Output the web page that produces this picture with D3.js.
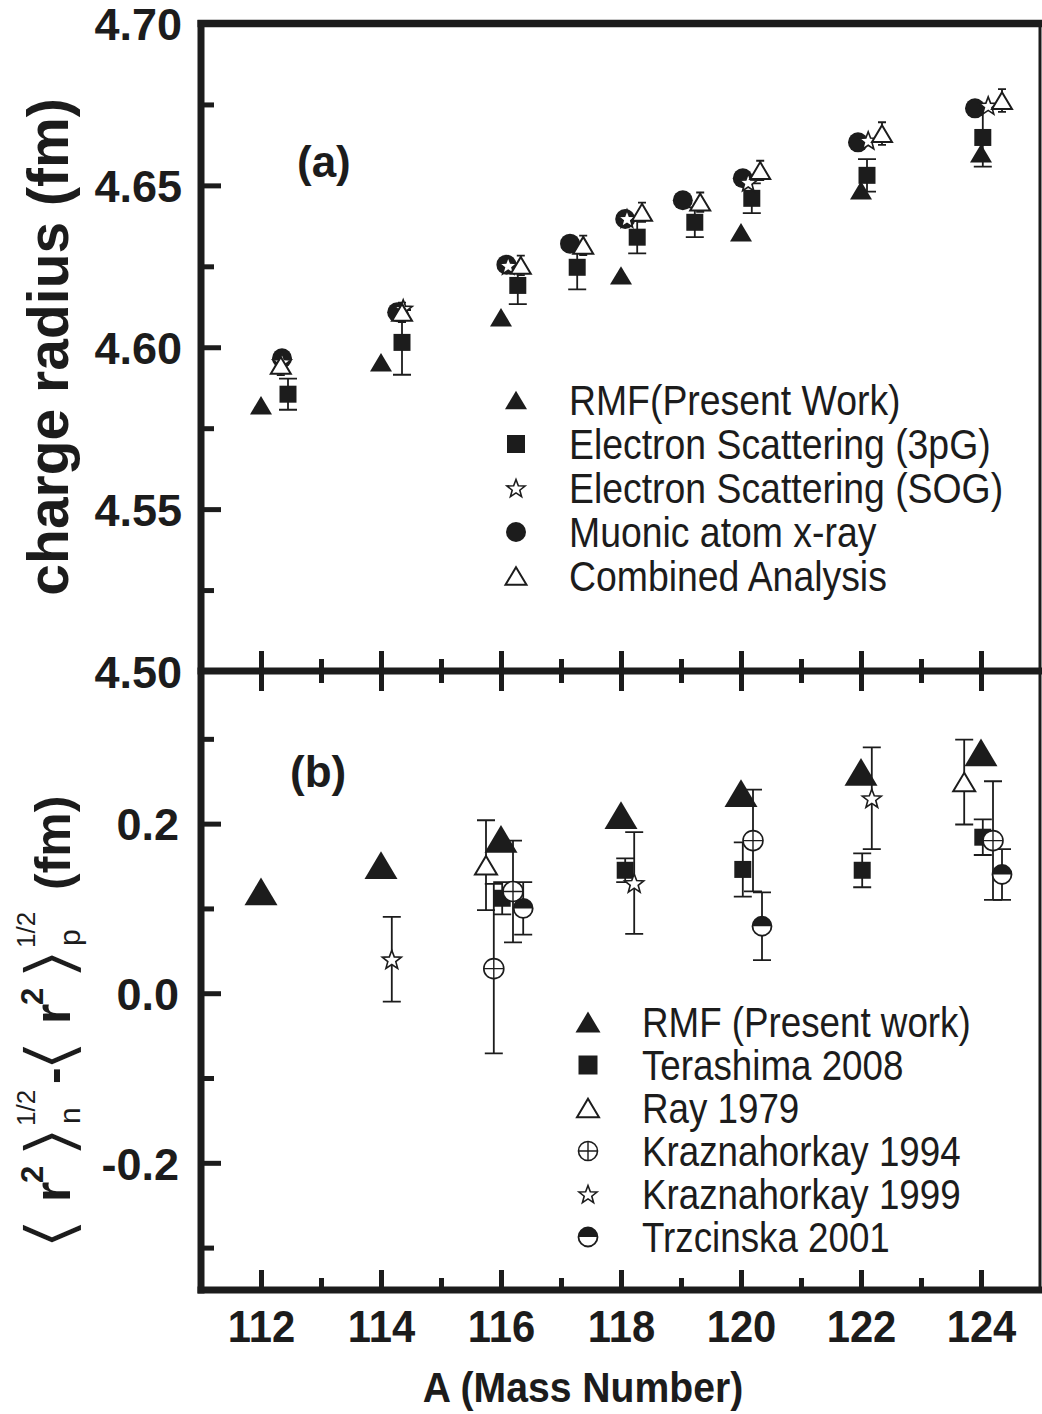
<!DOCTYPE html>
<html>
<head>
<meta charset="utf-8">
<script src="https://cdn.jsdelivr.net/npm/d3@7"></script>
<style>
  body { margin: 0; background: #fff; }
  svg { display: block; }
  text { fill: #1c1c1c; }
</style>
</head>
<body>
<svg id="fig" width="1042" height="1414"></svg>
<script>
// ---------------- Panel (a): charge radius (fm) ----------------
const rmfA_mass      = [112, 114, 116, 118, 120, 122, 124];
const rmfA_radius    = [4.5821, 4.5954, 4.6093, 4.6222, 4.6355, 4.6485, 4.6599];

const es3pG_mass     = [112.45, 114.35, 116.28, 117.27, 118.27, 119.23, 120.18, 122.10, 124.03];
const es3pG_radius   = [4.5855, 4.6015, 4.6191, 4.6247, 4.6340, 4.6386, 4.6460, 4.6531, 4.6648];
const es3pG_err      = [0.0048, 0.0100, 0.0058, 0.0068, 0.0050, 0.0046, 0.0046, 0.0050, 0.0090];

const esSOG_mass     = [112.35, 114.37, 116.12, 118.10, 120.12, 122.12, 124.12];
const esSOG_radius   = [4.5955, 4.6120, 4.6253, 4.6398, 4.6510, 4.6639, 4.6747];

const muonic_mass    = [112.35, 114.27, 116.09, 117.15, 118.07, 119.03, 120.03, 121.95, 123.90];
const muonic_radius  = [4.5966, 4.6108, 4.6255, 4.6320, 4.6396, 4.6454, 4.6522, 4.6633, 4.6738];

const combined_mass   = [112.33, 114.35, 116.33, 117.37, 118.35, 119.32, 120.32, 122.35, 124.35];
const combined_radius = [4.5944, 4.6108, 4.6253, 4.6315, 4.6417, 4.6448, 4.6546, 4.6660, 4.6762];
const combined_err    = [0.0030, 0.0030, 0.0030, 0.0030, 0.0030, 0.0030, 0.0030, 0.0035, 0.0035];

// ---------------- Panel (b): neutron skin (fm) ----------------
const rmfB_mass      = [112, 114, 116, 118, 120, 122, 124];
const rmfB_skin      = [0.120, 0.151, 0.182, 0.210, 0.236, 0.261, 0.284];

const terashima_mass = [116.02, 118.07, 120.03, 122.02, 124.03];
const terashima_skin = [0.112, 0.145, 0.146, 0.145, 0.184];
const terashima_err  = [0.019, 0.014, 0.032, 0.020, 0.021];

const ray_mass       = [115.75, 123.72];
const ray_skin       = [0.151, 0.249];
const ray_err        = [0.053, 0.050];

const krasz94_mass   = [115.88, 116.20, 120.20, 124.20];
const krasz94_skin   = [0.029, 0.120, 0.180, 0.180];
const krasz94_err    = [0.100, 0.060, 0.060, 0.070];

const krasz99_mass   = [114.18, 118.22, 122.18];
const krasz99_skin   = [0.040, 0.130, 0.230];
const krasz99_err    = [0.050, 0.060, 0.060];

const trzc_mass      = [116.37, 120.35, 124.35];
const trzc_skin      = [0.100, 0.079, 0.140];
const trzc_err       = [0.031, 0.040, 0.030];

// ---------------- Axes ----------------
const massTicksMajor = [112, 114, 116, 118, 120, 122, 124];
const massTicksMinor = [113, 115, 117, 119, 121, 123];
const radiusTicksMajor = [4.50, 4.55, 4.60, 4.65, 4.70];
const radiusTicksMinor = [4.525, 4.575, 4.625, 4.675];
const skinTicksMajor = [-0.2, 0.0, 0.2];
const skinTicksMinor = [-0.3, -0.1, 0.1, 0.3];

const legendA = ["RMF(Present Work)", "Electron Scattering (3pG)", "Electron Scattering (SOG)",
                 "Muonic atom x-ray", "Combined Analysis"];
const legendB = ["RMF (Present work)", "Terashima 2008", "Ray 1979",
                 "Kraznahorkay 1994", "Kraznahorkay 1999", "Trzcinska 2001"];

const INK = "#1c1c1c";
const FONT = "'Liberation Sans', Arial, Helvetica, sans-serif";

const svg = d3.select("#fig");

const x = d3.scaleLinear().domain([111, 125]).range([201, 1041]);
const yA = d3.scaleLinear().domain([4.50, 4.70]).range([671, 23.5]);
const yB = d3.scaleLinear().domain([-0.35, 0.38]).range([1290, 671]);

// ---- symbol shapes (size = width in px) ----
const triType = { draw(c, w) { const h = w * 0.84; c.moveTo(0, -h / 2); c.lineTo(w / 2, h / 2); c.lineTo(-w / 2, h / 2); c.closePath(); } };
const sqType = { draw(c, w) { c.rect(-w / 2, -w / 2, w, w); } };
const circType = { draw(c, w) { c.moveTo(w / 2, 0); c.arc(0, 0, w / 2, 0, 2 * Math.PI); } };
const starType = { draw(c, w) {
  const R = w / 2, r = R * 0.42;
  for (let i = 0; i < 10; i++) {
    const a = -Math.PI / 2 + i * Math.PI / 5, rr = i % 2 ? r : R;
    const px = rr * Math.cos(a), py = rr * Math.sin(a) + R * 0.1;
    i ? c.lineTo(px, py) : c.moveTo(px, py);
  }
  c.closePath();
} };
const topHalfType = { draw(c, w) { c.moveTo(-w / 2, 0); c.arc(0, 0, w / 2, Math.PI, 2 * Math.PI); c.closePath(); } };

function marker(g, kind, cx, cy, w) {
  const t = g.append("g").attr("transform", `translate(${cx},${cy})`);
  const sym = (type) => d3.symbol().type(type).size(w)();
  if (kind === "tri") t.append("path").attr("d", sym(triType)).attr("fill", INK);
  else if (kind === "sq") t.append("path").attr("d", sym(sqType)).attr("fill", INK);
  else if (kind === "dot") t.append("path").attr("d", sym(circType)).attr("fill", INK);
  else if (kind === "otri") t.append("path").attr("d", sym(triType)).attr("fill", "#fff").attr("stroke", INK).attr("stroke-width", 2).attr("stroke-linejoin", "miter");
  else if (kind === "star") t.append("path").attr("d", sym(starType)).attr("fill", "#fff").attr("stroke", INK).attr("stroke-width", 1.6);
  else if (kind === "cplus") {
    t.append("path").attr("d", sym(circType)).attr("fill", "#fff").attr("stroke", INK).attr("stroke-width", 1.6);
    t.append("path").attr("d", `M${-w / 2},0H${w / 2}M0,${-w / 2}V${w / 2}`).attr("stroke", INK).attr("stroke-width", 1.4);
  } else if (kind === "half") {
    t.append("path").attr("d", sym(circType)).attr("fill", "#fff").attr("stroke", INK).attr("stroke-width", 1.8);
    t.append("path").attr("d", sym(topHalfType)).attr("fill", INK);
  }
}

function errorBars(g, xs, ys, es, yScale, cap) {
  xs.forEach((m, i) => {
    const cx = x(m), y1 = yScale(ys[i] + es[i]), y0 = yScale(ys[i] - es[i]);
    g.append("path")
      .attr("d", `M${cx},${y1}V${y0}M${cx - cap / 2},${y1}H${cx + cap / 2}M${cx - cap / 2},${y0}H${cx + cap / 2}`)
      .attr("stroke", INK).attr("stroke-width", 1.8).attr("fill", "none");
  });
}

function series(g, kind, xs, ys, yScale, w) {
  xs.forEach((m, i) => marker(g, kind, x(m), yScale(ys[i]), w));
}

// ---------------- Panel (a) marks ----------------
const gA = svg.append("g");
errorBars(gA, es3pG_mass, es3pG_radius, es3pG_err, yA, 18);
errorBars(gA, combined_mass, combined_radius, combined_err, yA, 8);
series(gA, "sq", es3pG_mass, es3pG_radius, yA, 17);
series(gA, "tri", rmfA_mass, rmfA_radius, yA, 22);
series(gA, "dot", muonic_mass, muonic_radius, yA, 20);
series(gA, "star", esSOG_mass, esSOG_radius, yA, 19);
series(gA, "otri", combined_mass, combined_radius, yA, 20);

// ---------------- Panel (b) marks ----------------
const gB = svg.append("g");
errorBars(gB, terashima_mass, terashima_skin, terashima_err, yB, 18);
errorBars(gB, ray_mass, ray_skin, ray_err, yB, 18);
errorBars(gB, krasz94_mass, krasz94_skin, krasz94_err, yB, 18);
errorBars(gB, krasz99_mass, krasz99_skin, krasz99_err, yB, 18);
errorBars(gB, trzc_mass, trzc_skin, trzc_err, yB, 18);
series(gB, "tri", rmfB_mass, rmfB_skin, yB, 33);
series(gB, "otri", ray_mass, ray_skin, yB, 22);
series(gB, "sq", terashima_mass, terashima_skin, yB, 17);
series(gB, "cplus", krasz94_mass, krasz94_skin, yB, 20);
series(gB, "star", krasz99_mass, krasz99_skin, yB, 20);
series(gB, "half", trzc_mass, trzc_skin, yB, 19);

// ---------------- Axes and frame ----------------
function styleAxis(g) {
  g.select(".domain").remove();
  g.selectAll(".tick line").attr("stroke", INK).attr("stroke-width", 5);
  g.selectAll(".tick text").attr("fill", INK).attr("font-family", FONT)
    .attr("font-weight", "bold").attr("font-size", 45);
}
// plain hyphen for negative tick labels
const fmtSkin = d => d3.format(".1f")(d).replace("\u2212", "-");

// left axis, panel (a)
svg.append("g").attr("transform", "translate(201,0)")
  .call(d3.axisLeft(yA).tickValues(radiusTicksMajor).tickFormat(d3.format(".2f")).tickSizeInner(-20).tickSizeOuter(0).tickPadding(19))
  .call(styleAxis)
  .call(g => g.selectAll(".tick text").attr("dy", "0.36em"));
svg.append("g").attr("transform", "translate(201,0)")
  .call(d3.axisLeft(yA).tickValues(radiusTicksMinor).tickFormat("").tickSizeInner(-13).tickSizeOuter(0))
  .call(styleAxis);

// left axis, panel (b)
svg.append("g").attr("transform", "translate(201,0)")
  .call(d3.axisLeft(yB).tickValues(skinTicksMajor).tickFormat(fmtSkin).tickSizeInner(-20).tickSizeOuter(0).tickPadding(22))
  .call(styleAxis)
  .call(g => g.selectAll(".tick text").attr("dy", "0.36em"));
svg.append("g").attr("transform", "translate(201,0)")
  .call(d3.axisLeft(yB).tickValues(skinTicksMinor).tickFormat("").tickSizeInner(-13).tickSizeOuter(0))
  .call(styleAxis);

// shared mass axis ticks on the panel divider (both directions)
svg.append("g").attr("transform", "translate(0,691)")
  .call(d3.axisBottom(x).tickValues(massTicksMajor).tickFormat("").tickSizeInner(-40).tickSizeOuter(0))
  .call(styleAxis);
svg.append("g").attr("transform", "translate(0,683)")
  .call(d3.axisBottom(x).tickValues(massTicksMinor).tickFormat("").tickSizeInner(-24).tickSizeOuter(0))
  .call(styleAxis);

// bottom mass axis
svg.append("g").attr("transform", "translate(0,1290)")
  .call(d3.axisBottom(x).tickValues(massTicksMajor).tickFormat(d3.format("d")).tickSizeInner(-20).tickSizeOuter(0).tickPadding(0))
  .call(styleAxis)
  .call(g => g.selectAll(".tick text").attr("font-size", 44).attr("dy", null).attr("y", 52)
    .attr("transform", "scale(0.95,1)").attr("x", 0));
svg.append("g").attr("transform", "translate(0,1290)")
  .call(d3.axisBottom(x).tickValues(massTicksMinor).tickFormat("").tickSizeInner(-12).tickSizeOuter(0))
  .call(styleAxis);

// frame lines
const frame = svg.append("g").attr("stroke", INK).attr("fill", "none");
frame.append("line").attr("x1", 1040).attr("x2", 1040).attr("y1", yA.range()[1]).attr("y2", yB.range()[0]).attr("stroke-width", 3);
frame.append("line").attr("x1", 197.5).attr("x2", 1042).attr("y1", yA.range()[1]).attr("y2", yA.range()[1]).attr("stroke-width", 7.5);
frame.append("line").attr("x1", 197.5).attr("x2", 1042).attr("y1", 671).attr("y2", 671).attr("stroke-width", 7);
frame.append("line").attr("x1", 197.5).attr("x2", 1042).attr("y1", 1290).attr("y2", 1290).attr("stroke-width", 7);
frame.append("line").attr("x1", 201).attr("x2", 201).attr("y1", 20).attr("y2", 1293.5).attr("stroke-width", 7);

// ---------------- Texts ----------------
function label(txt, px, py, size, opts = {}) {
  return svg.append("text")
    .attr("transform", `translate(${px},${py})${opts.rotate ? ` rotate(${opts.rotate})` : ""} scale(${opts.sx || 1},1)`)
    .attr("font-family", FONT).attr("font-size", size)
    .attr("font-weight", opts.bold ? "bold" : "normal")
    .attr("text-anchor", opts.anchor || "start")
    .text(txt);
}

label("(a)", 297, 177, 44, { bold: true });
label("(b)", 290, 787, 44, { bold: true });

label("charge radius (fm)", 68, 347, 57, { bold: true, rotate: -90, anchor: "middle" });
label("A (Mass Number)", 583, 1402, 43, { bold: true, anchor: "middle", sx: 0.91 });

// ---- legend (a) ----
const legKindsA = [["tri", 22], ["sq", 18], ["star", 19], ["dot", 20], ["otri", 21]];
legendA.forEach((name, i) => {
  const ry = 400 + i * 44;
  marker(svg, legKindsA[i][0], 516, ry, legKindsA[i][1]);
  label(name, 569, ry + 15, 42, { sx: 0.89 });
});

// ---- legend (b) ----
const legKindsB = [["tri", 25], ["sq", 19], ["otri", 22], ["cplus", 19], ["star", 19], ["half", 19]];
legendB.forEach((name, i) => {
  const ry = 1022 + i * 43;
  marker(svg, legKindsB[i][0], 588, ry, legKindsB[i][1]);
  label(name, 642, ry + 15, 42, { sx: 0.875 });
});

// ---- y title of panel (b): <r^2>_n^(1/2) - <r^2>_p^(1/2) (fm) ----
const tb = svg.append("g").attr("transform", "translate(70,1250) rotate(-90)");
function piece(txt, u, v, size, bold, family, sx, sy, thin) {
  const t = tb.append("text").attr("transform", `translate(${u},${v}) scale(${sx || 1},${sy || 1})`)
    .attr("font-family", family || FONT).attr("font-size", size)
    .attr("font-weight", bold ? "bold" : "normal").text(txt);
  // slim the bracket strokes with a white outline painted over the glyph
  if (thin) t.attr("stroke", "#fff").attr("stroke-width", thin).attr("paint-order", "fill");
}
const BRK = "'DejaVu Sans', sans-serif";
piece("\u27E8", -2, 3, 60, false, BRK, 1.55, 1.12, 1.6);
piece("r", 48, 0, 52, true);
piece("2", 67, -27, 31, true);
piece("\u27E9", 90, 3, 60, false, BRK, 1.55, 1.12, 1.6);
piece("n", 126, 10, 30, false);
piece("1/2", 124, -35, 26, false);
piece("-", 166, 0, 50, true);
piece("\u27E8", 176, 3, 60, false, BRK, 1.55, 1.12, 1.6);
piece("r", 226, 0, 52, true);
piece("2", 245, -27, 31, true);
piece("\u27E9", 268, 3, 60, false, BRK, 1.55, 1.12, 1.6);
piece("p", 304, 10, 30, false);
piece("1/2", 302, -35, 26, false);
piece("(fm)", 360, 0, 50, true);
</script>
</body>
</html>
